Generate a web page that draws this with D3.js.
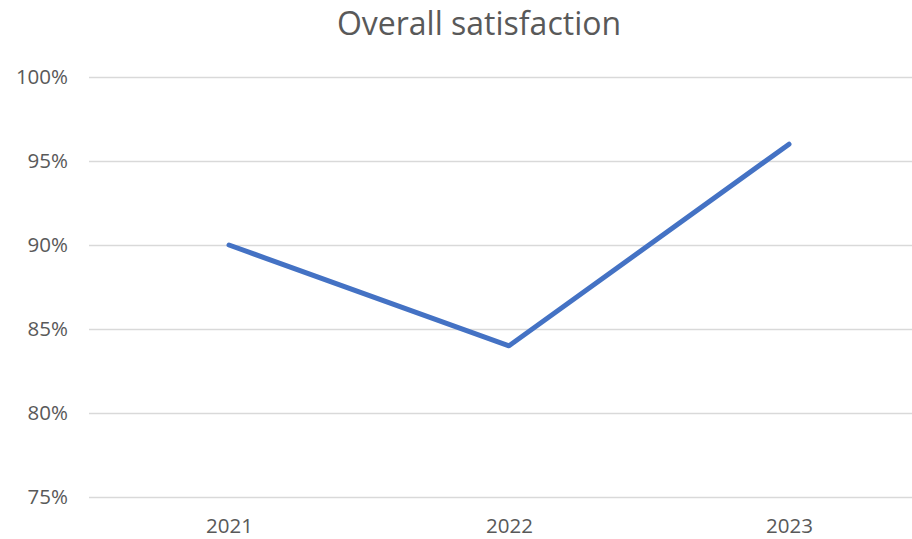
<!DOCTYPE html>
<html>
<head>
<meta charset="utf-8">
<script src="https://cdn.jsdelivr.net/npm/d3@7"></script>
<style>
  html, body { margin: 0; padding: 0; background: #fff; }
  svg { display: block; }
</style>
</head>
<body>
<svg id="chart" width="912" height="539"></svg>
<script>
// Chart data
const years = ["2021", "2022", "2023"];
const satisfaction = [0.90, 0.84, 0.96];
const yTicks = [0.75, 0.80, 0.85, 0.90, 0.95, 1.00];
const chartTitle = "Overall satisfaction";

const W = 912, H = 539;
const plot = { left: 89, right: 929, top: 77, bottom: 497 };
const fontFamily = "'Open Sans', Lato, sans-serif";
const textColor = "#595959";

const svg = d3.select("#chart");

const x = d3.scalePoint()
  .domain(years)
  .range([plot.left, plot.right])
  .padding(0.5);

const y = d3.scaleLinear()
  .domain([0.75, 1.00])
  .range([plot.bottom, plot.top]);

// Title
svg.append("text")
  .attr("x", 479)
  .attr("y", 35)
  .attr("text-anchor", "middle")
  .attr("font-family", fontFamily)
  .attr("font-size", 32)
  .attr("font-weight", 400)
  .attr("fill", textColor)
  .text(chartTitle);

// Horizontal gridlines and percent labels
const yAxis = d3.axisLeft(y)
  .tickValues(yTicks)
  .tickFormat(d3.format(".0%"))
  .tickSize(-(plot.right - plot.left))
  .tickPadding(21);

const gy = svg.append("g")
  .attr("transform", `translate(${plot.left},0)`)
  .call(yAxis);
gy.select(".domain").remove();
gy.selectAll(".tick line")
  .attr("stroke", "#d9d9d9")
  .attr("stroke-width", 1.5);
gy.selectAll(".tick text")
  .attr("font-family", fontFamily)
  .attr("font-size", 20.5)
  .attr("fill", textColor);

// Category labels
const xAxis = d3.axisBottom(x).tickSize(0).tickPadding(0);
const gx = svg.append("g")
  .attr("transform", `translate(0,${plot.bottom})`)
  .call(xAxis);
gx.select(".domain").remove();
gx.selectAll(".tick text")
  .attr("dy", null)
  .attr("y", 36)
  .attr("font-family", fontFamily)
  .attr("font-size", 20.5)
  .attr("fill", textColor);

// Series line
const line = d3.line()
  .x((d, i) => x(years[i]))
  .y(d => y(d));

svg.append("path")
  .datum(satisfaction)
  .attr("d", line)
  .attr("fill", "none")
  .attr("stroke", "#4472C4")
  .attr("stroke-width", 5)
  .attr("stroke-linecap", "round")
  .attr("stroke-linejoin", "round");
</script>
</body>
</html>
